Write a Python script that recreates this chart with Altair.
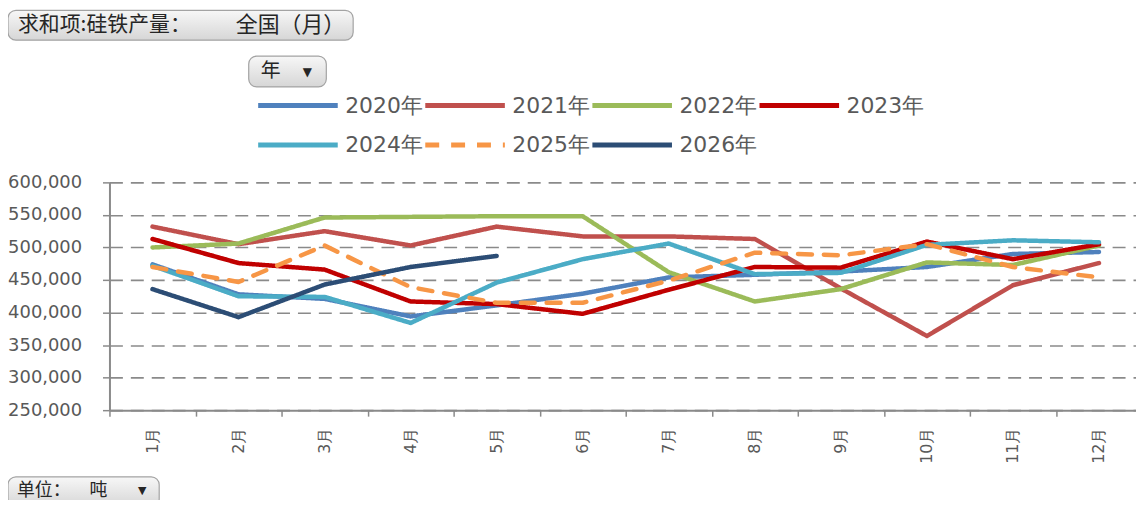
import altair as alt
import pandas as pd

months = list(range(1, 13))
years = ["2020年", "2021年", "2022年", "2023年", "2024年", "2025年", "2026年"]
colors = ["#4F81BD", "#C0504D", "#9BBB59", "#C00000", "#4BACC6", "#F79646", "#2C4D75"]

v2020 = [474000, 428000, 421000, 394000, 411000, 429000, 454000, 458000, 463000, 470000, 490000, 493000]
v2021 = [532000, 505000, 525000, 503000, 532000, 517000, 517000, 513000, 437000, 364000, 442000, 476000]
v2022 = [500000, 506000, 546000, 547000, 548000, 548000, 462000, 417000, 436000, 477000, 473000, 503000]
v2023 = [513000, 476000, 466000, 417000, 413000, 398000, 435000, 470000, 469000, 509000, 482000, 505000]
v2024 = [472000, 425000, 424000, 384000, 446000, 482000, 506000, 459000, 461000, 504000, 511000, 508000]
v2025 = [470000, 447000, 503000, 439000, 415000, 415000, 449000, 492000, 488000, 505000, 470000, 454000]
v2026 = [436000, 393000, 443000, 470000, 487000]

series = [v2020, v2021, v2022, v2023, v2024, v2025, v2026]
dashes = [[1, 0], [1, 0], [1, 0], [1, 0], [1, 0], [14, 12], [1, 0]]

y_ticks = [250000, 300000, 350000, 400000, 450000, 500000, 550000, 600000]
x_ticks = [0.5, 1, 1.5, 2, 2.5, 3, 3.5, 4, 4.5, 5, 5.5, 6, 6.5, 7, 7.5, 8, 8.5, 9, 9.5, 10, 10.5, 11, 11.5, 12]

title_a = "求和项:硅铁产量："
title_b = "全国（月）"
unit_a = "单位："
unit_b = "吨"
year_btn = "年"

rows = []
for yname, vals in zip(years, series):
    for m, v in zip(months, vals):
        rows.append({"year": yname, "month": m, "value": v})
df = pd.DataFrame(rows)

GRAY = "#8a8a8a"
legend_kw = dict(
    title=None, orient="none", legendX=177, legendY=-90, direction="horizontal",
    columns=4, symbolType="M-4,0H4", symbolSize=400, symbolStrokeWidth=5,
    labelFont="DejaVu Sans", labelFontSize=22, labelColor="#595959",
    labelOffset=35, columnPadding=-8, rowPadding=16, padding=0, labelLimit=0,
)

lines = alt.Chart(df).mark_line(strokeWidth=4.5, strokeCap="round", strokeJoin="round").encode(
    x=alt.X("month:Q",
            scale=alt.Scale(domain=[0.5, 12.43], nice=False, zero=False),
            axis=alt.Axis(values=x_ticks, title=None, grid=False,
                          labelExpr="datum.value % 1 === 0 ? datum.value + '月' : ''",
                          labelAngle=270, labelFont="DejaVu Sans", labelFontSize=16,
                          labelColor="#595959", labelPadding=11, labelOverlap=False,
                          labelBound=False, labelFlush=False,
                          tickSize=6, tickWidth=1.5, tickColor=GRAY,
                          tickOpacity={"condition": {"test": "datum.value % 1 === 0", "value": 0}, "value": 1},
                          domainColor=GRAY, domainWidth=2)),
    y=alt.Y("value:Q",
            scale=alt.Scale(domain=[250000, 600000], nice=False, zero=False),
            axis=alt.Axis(values=y_ticks, format=",d", title=None, grid=True,
                          gridDash=[13, 8], gridColor=GRAY, gridWidth=1.6,
                          domainColor=GRAY, domainWidth=2, tickColor=GRAY, tickSize=7,
                          tickWidth=1.5, labelPadding=21, labelFont="DejaVu Sans",
                          labelFontSize=18, labelColor="#595959")),
    color=alt.Color("year:N", scale=alt.Scale(domain=years, range=colors), legend=alt.Legend(**legend_kw)),
    strokeDash=alt.StrokeDash("year:N", scale=alt.Scale(domain=years, range=dashes), legend=alt.Legend(**legend_kw)),
)

grad = alt.Gradient(gradient="linear",
                    stops=[alt.GradientStop(color="#f7f7f7", offset=0),
                           alt.GradientStop(color="#d6d6d6", offset=1)],
                    x1=0, x2=0, y1=0, y2=1)

one = alt.Data(values=[{"k": 1}])


def box(x0, x1, y0, y1):
    return alt.Chart(one).mark_rect(cornerRadius=8, stroke="#a3a3a3", strokeWidth=1.2, fill=grad).encode(
        x=alt.value(x0), x2=alt.value(x1), y=alt.value(y0), y2=alt.value(y1))


def label(txt, x, y, size, align="left", font="Noto Sans CJK SC"):
    return alt.Chart(one).mark_text(align=align, baseline="middle", font=font, fontSize=size,
                                    color="#262626").encode(
        x=alt.value(x), y=alt.value(y), text=alt.value(txt))


deco = [
    box(-102, 245, -173, -143),
    label(title_a, -92, -158, 21),
    label(title_b, 127, -158, 22),
    box(140, 218, -127, -96),
    label(year_btn, 152, -111.5, 20),
    label("▼", 199, -111, 12, align="center", font="DejaVu Sans"),
    box(-102, 50, 296, 326),
    label(unit_a, -93, 310, 18),
    label(unit_b, -20, 310, 18),
    label("▼", 33, 310, 11, align="center", font="DejaVu Sans"),
]

chart = alt.layer(lines, *deco).properties(
    width=1032, height=229,
    padding={"left": 102, "top": 174, "right": 0, "bottom": 89},
    autosize=alt.AutoSizeParams(type="none"),
    background="white",
).configure_view(stroke=None)

chart.save("out.html", embed_options={"renderer": "svg", "actions": False})
